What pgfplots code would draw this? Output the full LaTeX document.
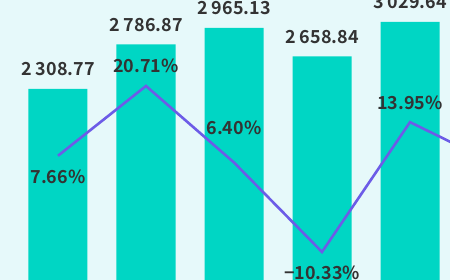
\documentclass[border=0pt]{standalone}
\usepackage{pgfplots}
\pgfplotsset{compat=1.18}
\usepackage{fontspec}
\setmainfont{Noto Sans CJK SC}
\newfontfamily\lab{Noto Sans CJK SC Bold}
\definecolor{bgc}{RGB}{230,249,250}
\definecolor{barc}{RGB}{0,214,196}
\definecolor{linec}{RGB}{108,92,231}
\definecolor{txt}{RGB}{51,51,51}
\begin{document}
\begin{tikzpicture}
\useasboundingbox (0,0) rectangle (450bp,280bp);
\clip (0,0) rectangle (450bp,280bp);
\fill[bgc] (0,0) rectangle (450bp,280bp);
\begin{axis}[at={(0,0)}, anchor=south west, width=450bp, height=280bp, scale only axis,
  xmin=-0.659, xmax=4.4545, ymin=255, ymax=3265, axis lines=none, ticks=none, clip=false,
  ybar, bar width=59bp,
  nodes near coords,
  point meta=y,
  /pgf/number format/.cd, fixed, precision=2, fixed zerofill, 1000 sep={\hspace{0.22em}}, assume math mode=true,
  /pgfplots/.cd,
  every node near coord/.append style={anchor=center, yshift=19.5bp, font=\lab\fontsize{18}{21}\selectfont, text=txt, inner sep=0pt}]
\addplot[fill=barc, draw=none] coordinates {(0,2308.77) (1,2786.87) (2,2965.13) (3,2658.84) (4,3029.64)};
\end{axis}
\begin{axis}[at={(0,0)}, anchor=south west, width=450bp, height=280bp, scale only axis,
  xmin=-0.659, xmax=4.4545, ymin=-15.57, ymax=36.79, axis lines=none, ticks=none, clip=false,
  nodes near coords, point meta=explicit symbolic,
  visualization depends on={value \thisrow{dy} \as \dy},
  every node near coord/.append style={anchor=center, yshift=\dy bp, font=\lab\fontsize{18}{21}\selectfont, text=txt, inner sep=0pt}]
\addplot[linec, line width=2.6bp, mark=none, line join=miter] table[x=x, y=y, meta=label] {
x y dy label
0 7.66 -21 {7.66\%}
1 20.71 20 {20.71\%}
2 6.40 35 {6.40\%}
3 -10.33 -21 {−10.33\%}
4 13.95 19 {13.95\%}
5 5.9 0 {}
};
\end{axis}
\end{tikzpicture}
\end{document}
